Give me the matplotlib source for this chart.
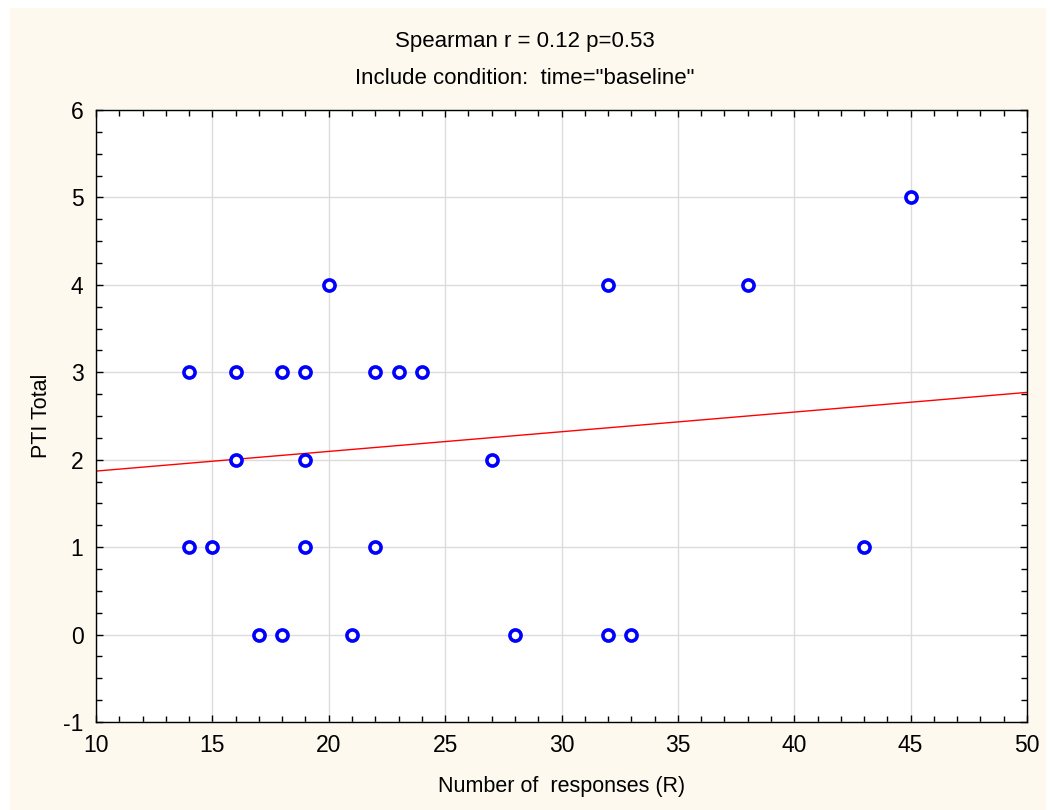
import numpy as np
import matplotlib.pyplot as plt
from matplotlib.patches import Rectangle
from matplotlib.ticker import MultipleLocator

plt.rcParams['font.family'] = ['Liberation Sans', 'DejaVu Sans']
plt.rcParams['axes.unicode_minus'] = False

# number of responses (R) and PTI total, baseline
responses = [14, 16, 18, 19, 22, 23, 24,
             20, 32, 38, 45,
             16, 19, 27,
             14, 15, 19, 22, 43,
             17, 18, 21, 28, 32, 33]
pti_total = [3, 3, 3, 3, 3, 3, 3,
             4, 4, 4, 5,
             2, 2, 2,
             1, 1, 1, 1, 1,
             0, 0, 0, 0, 0, 0]

# fitted line (value at R=10 and R=50)
fit_x = [10, 50]
fit_y = [1.87, 2.77]

title_lines = ['Spearman r = 0.12 p=0.53', 'Include condition:  time="baseline"']

fig = plt.figure(figsize=(10.5, 8.1), dpi=100, facecolor='white')
fig.patches.append(Rectangle((10 / 1050, 0), 1036 / 1050, 802 / 810,
                             transform=fig.transFigure, facecolor='#fdf9ee',
                             edgecolor='none', zorder=-10))
ax = fig.add_axes([96 / 1050, 88 / 810, 931 / 1050, 612 / 810])
ax.set_facecolor('white')

ax.set_xlim(10, 50)
ax.set_ylim(-1, 6)
ax.xaxis.set_major_locator(MultipleLocator(5))
ax.xaxis.set_minor_locator(MultipleLocator(1))
ax.yaxis.set_major_locator(MultipleLocator(1))
ax.yaxis.set_minor_locator(MultipleLocator(0.25))
ax.grid(True, which='major', color='#dcdcdc', linewidth=1)
ax.set_axisbelow(True)
ax.tick_params(which='both', direction='in', top=True, right=True,
               labelsize=16.5, colors='black', width=1)
ax.tick_params(which='major', length=5, pad=9)
ax.tick_params(which='minor', length=4)
for s in ax.spines.values():
    s.set_linewidth(1)

ax.plot(fit_x, fit_y, color='red', linewidth=1, zorder=2)
ax.plot(responses, pti_total, linestyle='none', marker='o', markersize=8,
        markerfacecolor='white', markeredgecolor='#0000ff',
        markeredgewidth=2.6, zorder=3)

ax.set_xlabel('Number of  responses (R)', fontsize=15.5, labelpad=13)
ax.set_ylabel('PTI Total', fontsize=15.5, labelpad=8)
fig.text(0.5, 1 - 42 / 810, title_lines[0], ha='center', va='center', fontsize=16)
fig.text(0.5, 1 - 79 / 810, title_lines[1], ha='center', va='center', fontsize=16)

fig.savefig('out.png', dpi=100, facecolor=fig.get_facecolor())
